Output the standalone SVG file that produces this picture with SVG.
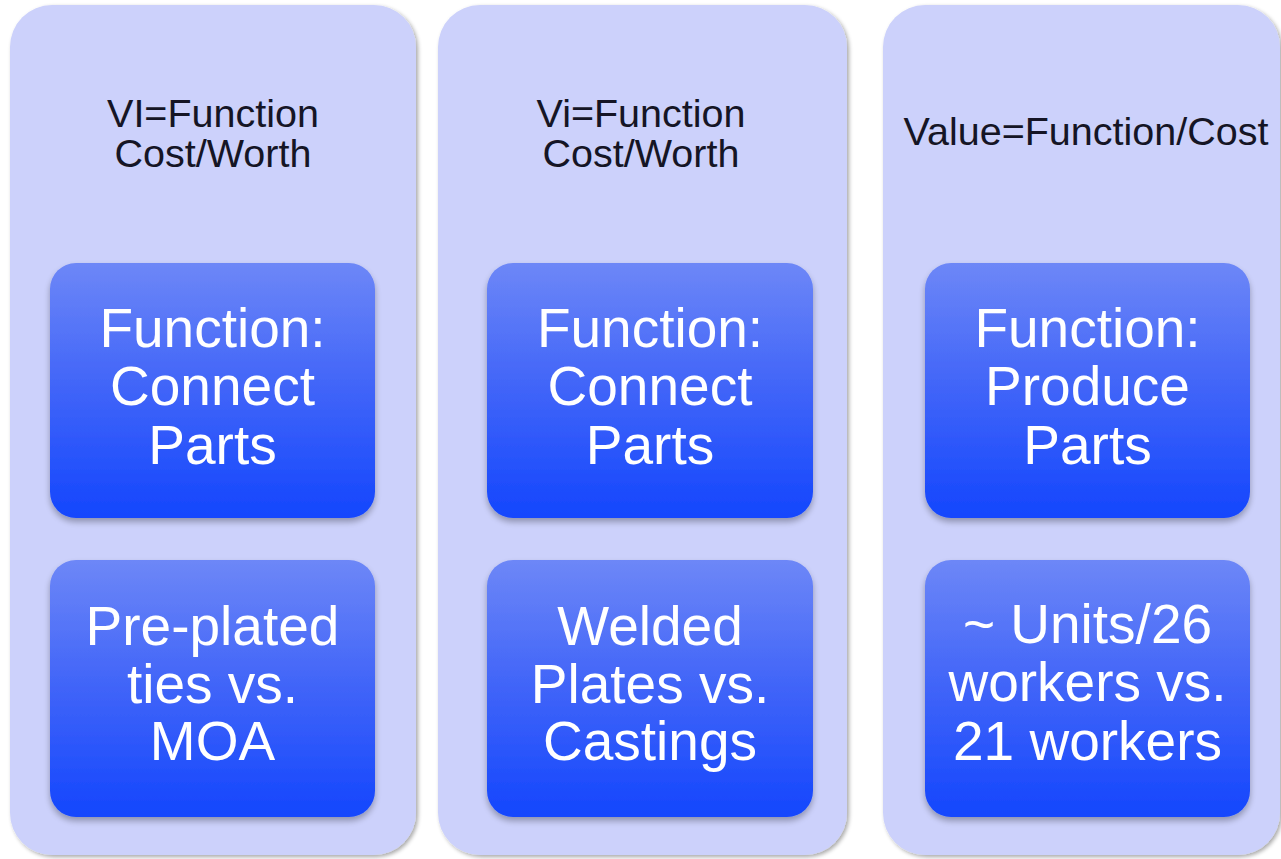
<svg xmlns="http://www.w3.org/2000/svg" width="1281" height="859" viewBox="0 0 1281 859">
  <defs>
    <linearGradient id="boxFill" x1="0" y1="0" x2="0" y2="1">
      <stop offset="0" stop-color="#6d87f7"/>
      <stop offset="0.45" stop-color="#4467f8"/>
      <stop offset="1" stop-color="#1446fd"/>
    </linearGradient>
    <filter id="panelShadow" x="-5%" y="-5%" width="110%" height="110%">
      <feGaussianBlur in="SourceAlpha" stdDeviation="2"/>
      <feOffset dx="1.5" dy="2" result="b"/>
      <feComponentTransfer><feFuncA type="linear" slope="0.35"/></feComponentTransfer>
      <feMerge><feMergeNode/><feMergeNode in="SourceGraphic"/></feMerge>
    </filter>
    <filter id="boxShadow" x="-10%" y="-10%" width="120%" height="125%">
      <feGaussianBlur in="SourceAlpha" stdDeviation="3"/>
      <feOffset dx="0" dy="4" result="b"/>
      <feComponentTransfer><feFuncA type="linear" slope="0.3"/></feComponentTransfer>
      <feMerge><feMergeNode/><feMergeNode in="SourceGraphic"/></feMerge>
    </filter>
  </defs>
  <style>
    .panel { fill: #ccd1fb; filter: url(#panelShadow); }
    .box { fill: url(#boxFill); filter: url(#boxShadow); }
    .title { font-family: "Liberation Sans", Arial, sans-serif; font-size: 39.5px; fill: #151525; text-anchor: middle; }
    .label { font-family: "Liberation Sans", Arial, sans-serif; font-size: 55px; fill: #ffffff; text-anchor: middle; }
  </style>
  <rect width="1281" height="859" fill="#ffffff"/>

  <!-- column 1 -->
  <g id="col1">
    <rect class="panel" x="10" y="5" width="406" height="850" rx="42"/>
    <text class="title" x="213" y="127">VI=Function</text>
    <text class="title" x="213" y="167">Cost/Worth</text>
  </g>
  <g id="col1-function">
    <rect class="box" x="50" y="263" width="325" height="255" rx="26"/>
    <text class="label" x="212.5" y="347">Function:</text>
    <text class="label" x="212.5" y="405">Connect</text>
    <text class="label" x="212.5" y="464">Parts</text>
  </g>
  <g id="col1-example">
    <rect class="box" x="50" y="560" width="325" height="257" rx="26"/>
    <text class="label" x="212.5" y="645">Pre-plated</text>
    <text class="label" x="212.5" y="703">ties vs.</text>
    <text class="label" x="212.5" y="760">MOA</text>
  </g>

  <!-- column 2 -->
  <g id="col2">
    <rect class="panel" x="438" y="5" width="409" height="850" rx="42"/>
    <text class="title" x="641" y="127">Vi=Function</text>
    <text class="title" x="641" y="167">Cost/Worth</text>
  </g>
  <g id="col2-function">
    <rect class="box" x="487" y="263" width="326" height="255" rx="26"/>
    <text class="label" x="650" y="347">Function:</text>
    <text class="label" x="650" y="405">Connect</text>
    <text class="label" x="650" y="464">Parts</text>
  </g>
  <g id="col2-example">
    <rect class="box" x="487" y="560" width="326" height="257" rx="26"/>
    <text class="label" x="650" y="645">Welded</text>
    <text class="label" x="650" y="703">Plates vs.</text>
    <text class="label" x="650" y="760">Castings</text>
  </g>

  <!-- column 3 -->
  <g id="col3">
    <rect class="panel" x="883" y="5" width="397" height="850" rx="42"/>
    <text class="title" x="1086" y="145">Value=Function/Cost</text>
  </g>
  <g id="col3-function">
    <rect class="box" x="925" y="263" width="325" height="255" rx="26"/>
    <text class="label" x="1087.5" y="347">Function:</text>
    <text class="label" x="1087.5" y="405">Produce</text>
    <text class="label" x="1087.5" y="464">Parts</text>
  </g>
  <g id="col3-example">
    <rect class="box" x="925" y="560" width="325" height="257" rx="26"/>
    <text class="label" x="1087.5" y="643">~ Units/26</text>
    <text class="label" x="1087.5" y="701">workers vs.</text>
    <text class="label" x="1087.5" y="760">21 workers</text>
  </g>

  <g id="connectors"/>
</svg>
